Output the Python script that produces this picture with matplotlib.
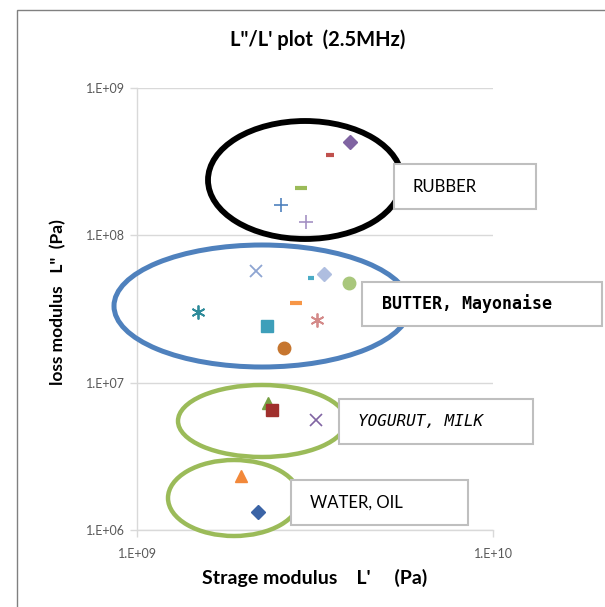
import matplotlib
matplotlib.use("Agg")
from matplotlib import pyplot as plt
from matplotlib.patches import Ellipse, Rectangle

# storage modulus L' (Pa) and loss modulus L'' (Pa)
rubber_x = [3.97e9, 3.48e9, 2.89e9, 2.54e9, 2.98e9]
rubber_y = [4.30e8, 3.51e8, 2.10e8, 1.61e8, 1.23e8]

butter_x = [2.16e9, 3.08e9, 3.35e9, 3.94e9, 2.80e9, 1.48e9, 2.32e9, 3.20e9, 2.59e9]
butter_y = [5.73e7, 5.13e7, 5.46e7, 4.75e7, 3.47e7, 3.02e7, 2.42e7, 2.66e7, 1.72e7]

yogurt_x = [2.33e9, 2.39e9, 3.18e9]
yogurt_y = [7.28e6, 6.52e6, 5.58e6]

water_x = [1.96e9, 2.19e9]
water_y = [2.33e6, 1.32e6]

group_labels = ["RUBBER", "BUTTER, Mayonaise", "YOGURUT, MILK", "WATER, OIL"]
x_ticks = [1e9, 1e10]
x_tick_labels = ["1.E+09", "1.E+10"]
y_ticks = [1e6, 1e7, 1e8, 1e9]
y_tick_labels = ["1.E+06", "1.E+07", "1.E+08", "1.E+09"]

# marker styles (marker, color, size, edge width)
rubber_style = [("D", "#8064A2", 7, 1), ("_", "#C0504D", 6, 3), ("_", "#9BBB59", 8, 3),
                ("+", "#4F81BD", 10, 1.2), ("+", "#A491C4", 10, 1.2)]
butter_style = [("x", "#8EA5D2", 8, 1.3), ("_", "#4BACC6", 5, 3), ("D", "#AFBEE0", 7, 1),
                ("o", "#A9C77C", 9, 1), ("_", "#F79646", 8, 3), ((6, 2, 0), "#2E8B9A", 10, 1.3),
                ("s", "#3E9FBA", 8, 1), ((6, 2, 0), "#D48A89", 10, 1.3), ("o", "#C6762F", 9, 1)]
yogurt_style = [("^", "#77A043", 8, 1), ("s", "#A0302D", 8, 1), ("x", "#8064A2", 8, 1.2)]
water_style = [("^", "#F2883A", 8, 1), ("D", "#3B64A6", 7, 1)]

W, H = 605, 607


def fx(x):
    return x / W


def fy(y):
    return 1 - y / H


fig = plt.figure(figsize=(6.05, 6.07), dpi=100)
ax = fig.add_axes([fx(137), fy(530), fx(493) - fx(137), fy(88) - fy(530)])

for xs, ys, styles in [(rubber_x, rubber_y, rubber_style), (butter_x, butter_y, butter_style),
                       (yogurt_x, yogurt_y, yogurt_style), (water_x, water_y, water_style)]:
    for x, y, (m, c, ms, mew) in zip(xs, ys, styles):
        ax.plot(x, y, marker=m, color=c, markersize=ms, markeredgewidth=mew,
                linestyle="none", zorder=3)

ax.set_xscale("log")
ax.set_yscale("log")
ax.set_xlim(1e9, 1e10)
ax.set_ylim(1e6, 1e9)
ax.set_xticks(x_ticks)
ax.set_xticklabels(x_tick_labels)
ax.set_yticks(y_ticks)
ax.set_yticklabels(y_tick_labels)
ax.minorticks_off()
ax.tick_params(colors="#d9d9d9", labelcolor="#595959", labelsize=9, length=5, width=1)
for lab in ax.get_xticklabels() + ax.get_yticklabels():
    lab.set_family("Lato")
ax.tick_params(axis="x", pad=8)
ax.grid(axis="y", color="#d9d9d9", linewidth=1)
ax.set_axisbelow(True)
for side in ["top", "right"]:
    ax.spines[side].set_visible(False)
for side in ["left", "bottom"]:
    ax.spines[side].set_color("#d9d9d9")
    ax.spines[side].set_linewidth(1)

fig.text(fx(318), fy(40), "L\"/L' plot  (2.5MHz)", ha="center", va="center",
         fontsize=14.5, fontweight="bold", family="Lato")
fig.text(fx(58), fy(302), "loss modulus   L\"  (Pa)", ha="center", va="center",
         rotation=90, fontsize=12.5, fontweight="bold", family="Lato")
fig.text(fx(315), fy(578), "Strage modulus    L'     (Pa)", ha="center", va="center",
         fontsize=14, fontweight="bold", family="Lato")

# outer chart border
fig.patches.append(Rectangle((fx(17), -0.2), 1.2, fy(10) + 0.2, transform=fig.transFigure,
                             fill=False, edgecolor="#808080", linewidth=1))

# ellipses around groups (center px, width px, height px, color, lw)
rings = [((305, 180), 194, 118, "black", 4.2),
         ((262, 306), 296, 122, "#4F81BD", 3.6),
         ((262, 421), 168, 72, "#9BBB59", 3.2),
         ((234, 498), 132, 76, "#9BBB59", 3.2)]
for (cx, cy), w, h, c, lw in rings:
    fig.patches.append(Ellipse((fx(cx), fy(cy)), w / W, h / H, transform=fig.transFigure,
                               fill=False, edgecolor=c, linewidth=lw, zorder=2))

# label boxes (left, top, right, bottom px)
boxes = [(394, 164, 536, 209), (362, 282, 602, 326), (339, 399, 533, 444), (291, 480, 468, 525)]
fonts = [dict(family="Lato", fontsize=12),
         dict(family="DejaVu Sans Mono", fontsize=12, fontweight="bold"),
         dict(family="DejaVu Sans Mono", fontsize=11.5, style="italic"),
         dict(family="Lato", fontsize=12)]
text_left = [413, 382, 358, 310]
for (l, t, r, b), label, font, tl in zip(boxes, group_labels, fonts, text_left):
    fig.patches.append(Rectangle((fx(l), fy(b)), (r - l) / W, (b - t) / H, transform=fig.transFigure,
                                 facecolor="white", edgecolor="#bfbfbf", linewidth=1.5, zorder=4))
    fig.text(fx(tl), fy((t + b) / 2), label, ha="left", va="center", zorder=5, **font)

fig.savefig("out.png", dpi=100)
